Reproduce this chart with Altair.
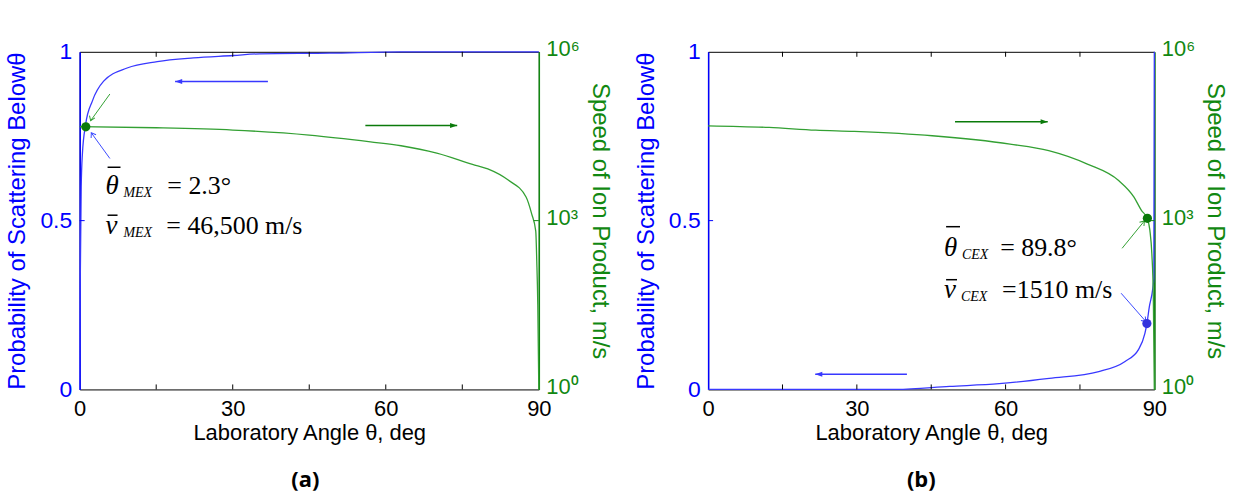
import altair as alt
import pandas as pd

# ---------------- data ----------------
# Panel (a): MEX
a_theta_p = [0, 0.1, 0.3, 0.53, 1.17, 2.48, 4.7, 9.3, 15.2, 22.3, 30.1, 35.3, 49, 63, 90]
a_prob = [0, 0.30, 0.60, 0.697, 0.785, 0.854, 0.913, 0.952, 0.971, 0.982, 0.989, 0.994, 0.996, 1.0, 1.0]
a_theta_v = [0, 15, 30, 45, 57, 63, 70, 77, 80, 84, 87.5, 88.6, 89.4, 89.6, 89.8, 90]
a_speed = [46800, 44700, 40700, 33100, 25100, 21400, 15800, 10000, 8300, 5250, 2630, 1320, 650, 190, 32, 1]

# Panel (b): CEX
b_theta_p = [0, 38, 48.7, 58.7, 68.8, 78.8, 84.1, 86.8, 88.1, 88.5, 89.0, 89.7, 89.9, 90]
b_prob = [0, 0.0, 0.009, 0.017, 0.033, 0.053, 0.083, 0.118, 0.166, 0.195, 0.245, 0.30, 0.33, 1.0]
b_theta_v = [0, 12.3, 21.7, 29.5, 45.2, 60.9, 68.7, 76.5, 82.8, 85.9, 87.4, 88.6, 89.1, 89.5, 89.8, 90]
b_speed = [48400, 45200, 40500, 38400, 32200, 22900, 17500, 10100, 5150, 2610, 1520, 1080, 676, 257, 45, 1]

x_ticks = [0, 15, 30, 45, 60, 75, 90]
x_labels = [0, 30, 60, 90]
prob_ticks = [0, 0.5, 1]
speed_ticks = [1, 1000, 1000000]

BLUE = "#0000ff"
BLUE_LINE = "#3838ff"
GREEN = "#118811"
GREEN_LINE = "#33a033"
GREEN_DOT = "#0a7a0a"
BLUE_DOT = "#3333dd"
W_A, W_B, H = 461, 448, 339

XSCALE = alt.Scale(domain=[0, 90], nice=False, zero=False)
PSCALE = alt.Scale(domain=[0, 1], nice=False)
SSCALE = alt.Scale(type="log", domain=[1, 1000000], nice=False)

SANS = "Liberation Sans"
SERIF = "Liberation Serif"

X_AXIS = alt.Axis(values=x_labels, ticks=False, grid=False, domain=False, labelFlush=False,
                  labelFontSize=22, labelFont=SANS, labelColor="black", labelPadding=9,
                  title="Laboratory Angle θ, deg", titleFont=SANS, titleFontSize=22,
                  titleFontWeight="normal", titleColor="black", titlePadding=3)


def X(field, axis=False):
    if axis:
        return alt.X(field, type="quantitative", scale=XSCALE, axis=X_AXIS)
    return alt.X(field, type="quantitative", scale=XSCALE)


def P(field, axis=None):
    if axis is not None:
        return alt.Y(field, type="quantitative", scale=PSCALE, axis=axis)
    return alt.Y(field, type="quantitative", scale=PSCALE)


def S(field, axis=None):
    if axis is not None:
        return alt.Y(field, type="quantitative", scale=SSCALE, axis=axis)
    return alt.Y(field, type="quantitative", scale=SSCALE)


def panel(theta_p, prob, theta_v, speed, dots_p, dots_v, arrows, harrows_p, harrows_v,
          texts, bars, width, label, label_dx):
    dfp = pd.DataFrame({"t": theta_p, "p": prob})
    dfv = pd.DataFrame({"t": theta_v, "s": speed})

    left_axis = alt.Axis(values=prob_ticks, format=".1~f", ticks=False, grid=False,
                         labelFlush=False,
                         domainColor=BLUE, domainWidth=1.5, labelColor=BLUE,
                         labelFontSize=23, labelFont=SANS, labelPadding=8,
                         title="Probability of Scattering Belowθ", titleColor=BLUE,
                         titleFont=SANS, titleFontSize=24, titleFontWeight="normal",
                         titlePadding=10)
    right_axis = alt.Axis(values=speed_ticks, orient="right", ticks=False, grid=False,
                          labelFlush=False, labelOffset=-3,
                          labelExpr="datum.value == 1 ? '10⁰' : datum.value == 1000 ? '10³' : '10⁶'",
                          domainColor=GREEN, domainWidth=1.5, labelColor=GREEN,
                          labelFontSize=22, labelFont=SANS, labelPadding=7,
                          title="Speed of Ion Product, m/s", titleColor=GREEN,
                          titleFont=SANS, titleFontSize=24, titleFontWeight="normal",
                          titlePadding=8)

    blue_line = alt.Chart(dfp).mark_line(color=BLUE_LINE, strokeWidth=1.3,
                                         interpolate="monotone").encode(
        x=X("t", True), y=P("p", left_axis))

    # inward ticks
    tk = pd.DataFrame({"t": x_ticks[1:-1]})
    ticks_bottom = alt.Chart(tk).mark_rule(color="black", strokeWidth=1).encode(
        x=X("t"), y=alt.value(H), y2=alt.value(H - 5))
    ticks_top = alt.Chart(tk).mark_rule(color="black", strokeWidth=1).encode(
        x=X("t"), y=alt.value(0), y2=alt.value(5))
    ticks_left = alt.Chart(pd.DataFrame({"p": [0.5]})).mark_rule(color=BLUE).encode(
        y=P("p"), x=alt.value(0), x2=alt.value(5))

    dp = pd.DataFrame({"t": [d[0] for d in dots_p], "p": [d[1] for d in dots_p]})
    blue_dot = alt.Chart(dp).mark_circle(size=85, color=BLUE_DOT, opacity=1).encode(
        x=X("t"), y=P("p"))

    # annotation arrows (in probability coordinates)
    ar = pd.DataFrame(arrows, columns=["t", "p", "t2", "p2", "c", "ang"])
    arrow_lines = alt.Chart(ar).mark_rule(strokeWidth=1).encode(
        x=X("t"), y=P("p"), x2="t2:Q", y2="p2:Q", color=alt.Color("c:N", scale=None))
    arrow_heads = alt.Chart(ar).mark_point(
        shape="M-1,-0.7L0,0L-1,0.7", filled=False, size=70, strokeWidth=1, opacity=1).encode(
        x=X("t2"), y=P("p2"),
        color=alt.Color("c:N", scale=None), angle=alt.Angle("ang:Q", scale=None))

    hp = pd.DataFrame(harrows_p, columns=["t", "t2", "p"])
    harrow_p = alt.Chart(hp).mark_rule(color=BLUE_LINE, strokeWidth=1.3).encode(
        x=X("t"), x2="t2:Q", y=P("p"))
    harrow_p_head = alt.Chart(hp).mark_point(
        shape="M0,0L-1.6,-0.55L-1.6,0.55Z", filled=True, size=80, color=BLUE_LINE, opacity=1,
        angle=180).encode(x=X("t2"), y=P("p"))

    tx = pd.DataFrame(texts, columns=["t", "p", "txt", "size", "style"])
    text_layers = []
    for style in ["italic", "normal"]:
        sub = tx[tx["style"] == style]
        for size in sorted(sub["size"].unique()):
            s2 = sub[sub["size"] == size]
            text_layers.append(alt.Chart(s2).mark_text(
                align="left", baseline="alphabetic", font=SERIF, fontSize=int(size),
                fontStyle=style, color="black").encode(
                x=X("t"), y=P("p"), text="txt:N"))

    bb = pd.DataFrame(bars, columns=["t", "t2", "p"])
    bar_rules = alt.Chart(bb).mark_rule(color="black", strokeWidth=1.5).encode(
        x=X("t"), x2="t2:Q", y=P("p"))

    left = alt.layer(blue_line, ticks_bottom, ticks_top, ticks_left, harrow_p, harrow_p_head,
                     arrow_lines, arrow_heads, *text_layers, bar_rules, blue_dot)

    green_line = alt.Chart(dfv).mark_line(color=GREEN_LINE, strokeWidth=1.3,
                                          interpolate="monotone").encode(
        x=X("t"), y=S("s", right_axis))
    ticks_right = alt.Chart(pd.DataFrame({"s": [1000]})).mark_rule(color=GREEN).encode(
        y=S("s"), x=alt.value(width - 5), x2=alt.value(width))
    hv = pd.DataFrame(harrows_v, columns=["t", "t2", "s"])
    harrow_v = alt.Chart(hv).mark_rule(color=GREEN_DOT, strokeWidth=1.3).encode(
        x=X("t"), x2="t2:Q", y=S("s"))
    harrow_v_head = alt.Chart(hv).mark_point(
        shape="M0,0L-1.6,-0.55L-1.6,0.55Z", filled=True, size=80, color=GREEN_DOT,
        opacity=1).encode(x=X("t2"), y=S("s"))
    dv = pd.DataFrame({"t": [d[0] for d in dots_v], "s": [d[1] for d in dots_v]})
    green_dot = alt.Chart(dv).mark_circle(size=85, color=GREEN_DOT, opacity=1).encode(
        x=X("t"), y=S("s"))
    right = alt.layer(green_line, ticks_right, harrow_v, harrow_v_head, green_dot)

    return alt.layer(left, right).resolve_scale(y="independent").properties(
        width=width, height=H,
        title=alt.TitleParams(label, orient="bottom", fontSize=22, fontWeight="bold",
                              font="Open Sans", color="black", offset=27,
                              frame="group", dx=label_dx))


# annotation geometry (theta, probability)
a_arrows = [(5.92, 0.875, 2.15, 0.796, GREEN_LINE, 112),
            (5.92, 0.684, 2.28, 0.760, "#3b4bff", -123)]
a_harrows_p = [(36.9, 18.7, 0.912)]
a_harrows_v = [(56.0, 74.0, 49000)]
a_texts = [(5.08, 0.578, "θ", 27, "italic"), (8.59, 0.569, "MEX", 14, "italic"),
           (17.18, 0.578, "= 2.3°", 26, "normal"),
           (5.08, 0.460, "v", 27, "italic"), (8.59, 0.451, "MEX", 14, "italic"),
           (16.99, 0.460, "= 46,500 m/s", 26, "normal")]
a_bars = [(5.47, 8.0, 0.658), (5.47, 7.42, 0.516)]

b_arrows = [(83.5, 0.418, 88.0, 0.499, GREEN_LINE, -50),
            (83.3, 0.285, 88.3, 0.201, "#3b4bff", 48)]
b_harrows_p = [(40.1, 21.6, 0.045)]
b_harrows_v = [(49.8, 68.5, 57100)]
b_texts = [(47.6, 0.396, "θ", 27, "italic"), (51.2, 0.387, "CEX", 14, "italic"),
           (58.9, 0.396, "= 89.8°", 26, "normal"),
           (47.6, 0.272, "v", 27, "italic"), (51.0, 0.263, "CEX", 14, "italic"),
           (59.3, 0.272, "=1510 m/s", 26, "normal")]
b_bars = [(48.0, 50.8, 0.482), (48.0, 50.2, 0.325)]

pa = panel(a_theta_p, a_prob, a_theta_v, a_speed, [], [(1.2, 46500)], a_arrows,
           a_harrows_p, a_harrows_v, a_texts, a_bars, W_A, "(a)", -4)
pb = panel(b_theta_p, b_prob, b_theta_v, b_speed, [(88.5, 0.195)], [(88.6, 1100)], b_arrows,
           b_harrows_p, b_harrows_v, b_texts, b_bars, W_B, "(b)", -10)

chart = alt.hconcat(pa, pb, spacing=21).properties(
    padding={"left": 5, "top": 36, "right": 5, "bottom": 5},
    background="white",
).configure_view(stroke="black", strokeWidth=1)

chart.save("out.html", embed_options={"renderer": "svg", "actions": False})
